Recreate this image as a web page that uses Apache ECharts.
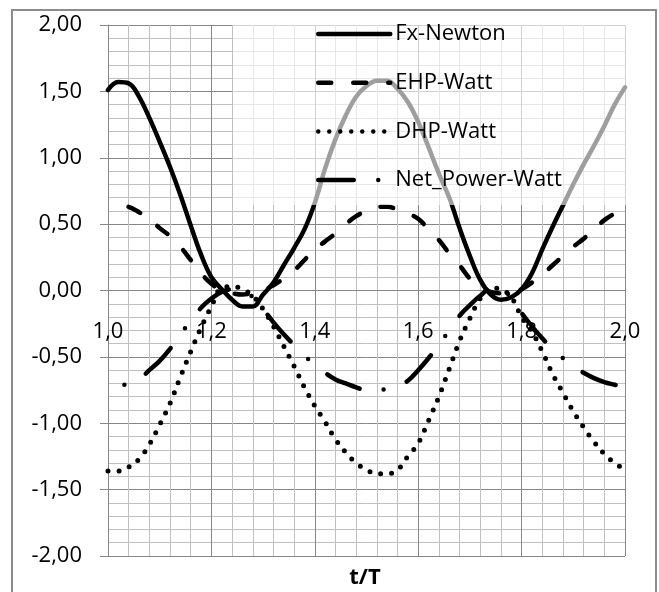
<!DOCTYPE html>
<html>
<head>
<meta charset="utf-8">
<script src="https://cdn.jsdelivr.net/npm/echarts@6/dist/echarts.min.js"></script>
<style>
html,body{margin:0;padding:0;background:#fff}
#chart{width:659px;height:592px}
</style>
</head>
<body>
<div id="chart"></div>
<script>
// t/T sample points
var tT = [1.00,1.02,1.04,1.06,1.08,1.10,1.12,1.14,1.16,1.18,
  1.20,1.22,1.24,1.26,1.28,1.30,1.32,1.34,1.36,1.38,
  1.40,1.42,1.44,1.46,1.48,1.50,1.52,1.54,1.56,1.58,
  1.60,1.62,1.64,1.66,1.68,1.70,1.72,1.74,1.76,1.78,
  1.80,1.82,1.84,1.86,1.88,1.90,1.92,1.94,1.96,1.98,2.00];

var fxNewton = [1.51,1.57,1.56,1.46,1.30,1.12,0.93,0.72,0.49,0.27,
  0.10,0.01,-0.07,-0.12,-0.12,-0.03,0.06,0.19,0.32,0.46,
  0.66,0.92,1.14,1.32,1.46,1.54,1.58,1.58,1.52,1.42,
  1.27,1.08,0.88,0.70,0.47,0.26,0.08,-0.03,-0.07,-0.05,
  0.01,0.13,0.31,0.48,0.64,0.80,0.95,1.09,1.24,1.40,1.53];

var ehpWatt = [0.62,0.64,0.63,0.59,0.54,0.47,0.41,0.33,0.23,0.13,
  0.05,0.00,-0.02,-0.03,-0.02,0.00,0.04,0.09,0.15,0.23,
  0.31,0.37,0.43,0.50,0.56,0.60,0.63,0.63,0.61,0.58,
  0.54,0.46,0.38,0.28,0.19,0.09,0.03,-0.01,-0.02,-0.01,
  0.01,0.06,0.12,0.19,0.26,0.33,0.39,0.46,0.53,0.58,0.62];

var dhpWatt = [-1.36,-1.36,-1.33,-1.27,-1.16,-1.01,-0.85,-0.65,-0.46,-0.28,
  -0.12,0.02,0.03,0.01,-0.04,-0.14,-0.27,-0.42,-0.57,-0.73,
  -0.87,-0.99,-1.12,-1.22,-1.30,-1.35,-1.38,-1.38,-1.35,-1.25,
  -1.15,-0.98,-0.80,-0.59,-0.38,-0.21,-0.06,0.02,0.01,-0.05,
  -0.20,-0.31,-0.46,-0.63,-0.77,-0.91,-1.03,-1.14,-1.23,-1.30,-1.35];

var netPowerWatt = [-0.74,-0.72,-0.70,-0.67,-0.60,-0.53,-0.44,-0.33,-0.23,-0.13,
  -0.06,-0.01,0.01,0.00,-0.05,-0.14,-0.24,-0.33,-0.41,-0.49,
  -0.56,-0.62,-0.67,-0.70,-0.73,-0.75,-0.75,-0.74,-0.72,-0.68,
  -0.60,-0.51,-0.41,-0.30,-0.19,-0.11,-0.04,0.01,0.00,-0.05,
  -0.17,-0.27,-0.36,-0.44,-0.51,-0.57,-0.62,-0.66,-0.69,-0.71,-0.73];

var seriesNames = ['Fx-Newton', 'EHP-Watt', 'DHP-Watt', 'Net_Power-Watt'];
var xAxisTitle = 't/T';

var FONT = 'Open Sans';

function pairs(ys) {
  return tT.map(function (t, i) { return [t, ys[i]]; });
}

function commaFixed(d) {
  return function (v) { return v.toFixed(d).replace('.', ','); };
}

var chart = echarts.init(document.getElementById('chart'));

chart.setOption({
  animation: false,
  backgroundColor: '#fff',
  textStyle: { fontFamily: FONT },
  grid: { left: 108, right: 34, top: 25, bottom: 36, outerBoundsMode: 'none', containLabel: false },
  legend: {
    orient: 'vertical',
    left: 233,
    top: 20,
    padding: [3, 80, 14, 83],
    itemWidth: 72,
    itemHeight: 22,
    itemGap: 26.7,
    backgroundColor: 'rgba(255,255,255,0.62)',
    selectedMode: false,
    itemStyle: { opacity: 0 },
    lineStyle: { width: 4.5, dashOffset: 0 },
    textStyle: { fontFamily: FONT, fontSize: 22, lineHeight: 22, color: '#000' },
    data: seriesNames
  },
  xAxis: {
    type: 'value',
    min: 1,
    max: 2,
    interval: 0.2,
    position: 'bottom',
    offset: -266,   // axis sits on y = 0 like the Excel original
    axisLine: { show: true, onZero: false, lineStyle: { color: '#878787', width: 1 } },
    axisTick: { show: false },
    minorTick: { show: false, splitNumber: 5 },
    axisLabel: { margin: 31, fontSize: 22, color: '#000', fontFamily: FONT, formatter: commaFixed(1) },
    splitLine: { show: true, lineStyle: { color: '#878787', width: 1 } },
    minorSplitLine: { show: true, lineStyle: { color: '#c0c0c0', width: 1 } }
  },
  yAxis: {
    type: 'value',
    min: -2,
    max: 2,
    interval: 0.5,
    axisLine: { show: true, onZero: false, lineStyle: { color: '#878787', width: 1 } },
    axisTick: { show: true, length: 8, lineStyle: { color: '#878787' } },
    minorTick: { show: false, splitNumber: 5 },
    axisLabel: { margin: 26, fontSize: 22, color: '#000', fontFamily: FONT, formatter: commaFixed(2) },
    splitLine: { show: true, lineStyle: { color: '#878787', width: 1 } },
    minorSplitLine: { show: true, lineStyle: { color: '#c0c0c0', width: 1 } }
  },
  graphic: [
    {
      type: 'rect',
      shape: { x: 12, y: 10, width: 644, height: 600 },
      style: { fill: 'none', stroke: '#8c8c8c', lineWidth: 2 },
      silent: true
    },
    {
      type: 'text',
      x: 365,
      y: 578,
      style: {
        text: xAxisTitle,
        fontFamily: FONT,
        fontSize: 22,
        fontWeight: 'bold',
        fill: '#000',
        align: 'center',
        verticalAlign: 'middle'
      }
    }
  ],
  series: [
    {
      name: seriesNames[0],
      type: 'line',
      data: pairs(fxNewton),
      symbol: 'none',
      smooth: 0.4,
      lineStyle: { color: '#000', width: 4.5, type: 'solid', cap: 'round' },
      itemStyle: { color: '#000' }
    },
    {
      name: seriesNames[1],
      type: 'line',
      data: pairs(ehpWatt),
      symbol: 'none',
      smooth: 0.4,
      lineStyle: { color: '#000', width: 4.5, type: [13, 22], dashOffset: 14, cap: 'round' },
      itemStyle: { color: '#000' }
    },
    {
      name: seriesNames[2],
      type: 'line',
      data: pairs(dhpWatt),
      symbol: 'none',
      smooth: 0.4,
      lineStyle: { color: '#000', width: 5, type: [0, 11], cap: 'round' },
      itemStyle: { color: '#000' }
    },
    {
      name: seriesNames[3],
      type: 'line',
      data: pairs(netPowerWatt),
      symbol: 'none',
      smooth: 0.4,
      lineStyle: { color: '#000', width: 4.5, type: [35.5, 24.5, 0, 24.5], dashOffset: 43, cap: 'round' },
      itemStyle: { color: '#000' }
    }
  ]
});
</script>
</body>
</html>
